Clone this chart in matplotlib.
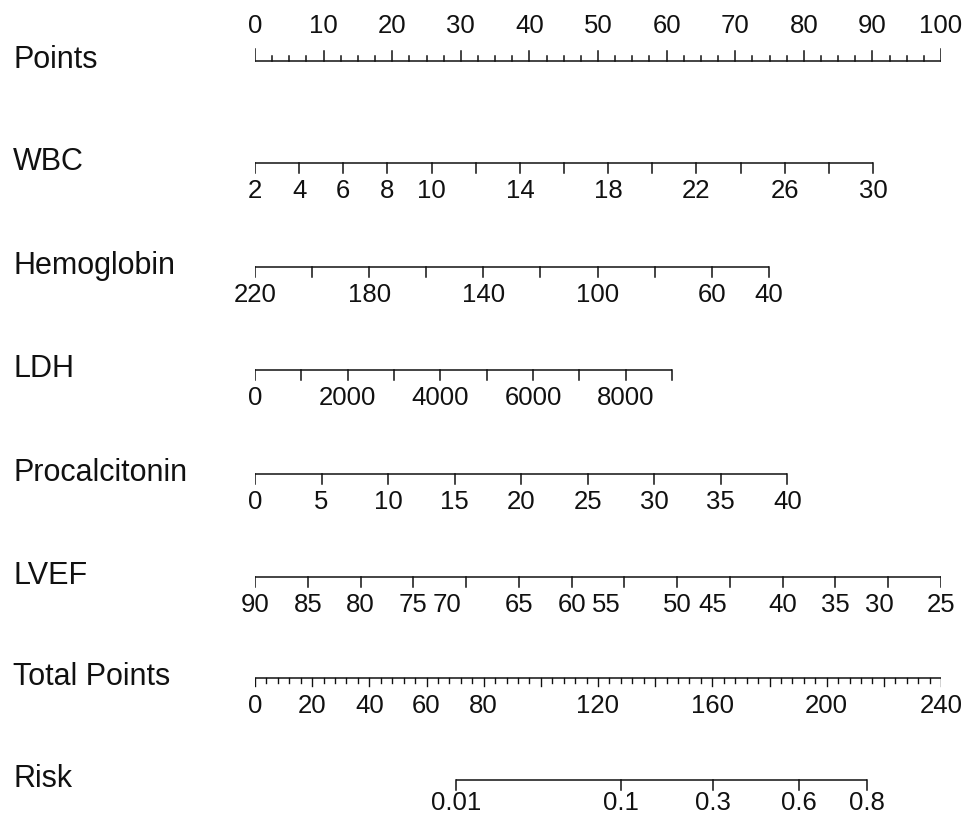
import numpy as np
import matplotlib
matplotlib.use('Agg')
import matplotlib.pyplot as plt

# nomogram variables: axis range (value at 0 points, value at far end, points at far end)
wbc_range = (2, 30, 90.1)
wbc_ticks = np.arange(2, 31, 2)
wbc_labels = [2, 4, 6, 8, 10, 14, 18, 22, 26, 30]

hgb_range = (220, 40, 74.9)
hgb_ticks = np.arange(220, 39, -20)
hgb_labels = [220, 180, 140, 100, 60, 40]

ldh_range = (0, 9000, 60.8)
ldh_ticks = np.arange(0, 9001, 1000)
ldh_labels = [0, 2000, 4000, 6000, 8000]

pct_range = (0, 40, 77.6)
pct_ticks = np.arange(0, 41, 5)
pct_labels = list(range(0, 41, 5))

lvef_range = (90, 25, 100.0)
lvef_ticks = np.arange(90, 24, -5)
lvef_labels = [90, 85, 80, 75, 70, 65, 60, 55, 50, 45, 40, 35, 30, 25]
# where the labels sit (in LVEF units), a few are nudged left
lvef_label_at = [90, 85, 80, 75, 71.8, 65, 60, 56.7, 50, 46.6, 40, 35, 30.8, 25]

total_major = np.arange(0, 241, 20)
total_minor = np.arange(0, 241, 4)
total_labels = [0, 20, 40, 60, 80, 120, 160, 200, 240]

risk_ticks = [0.01, 0.1, 0.3, 0.6, 0.8]
risk_labels = ['0.01', '0.1', '0.3', '0.6', '0.8']
# linear predictor: total points = a + b * logit(risk)
risk_a, risk_b = 180.7, 24.0

names = ['Points', 'WBC', 'Hemoglobin', 'LDH', 'Procalcitonin', 'LVEF',
         'Total Points', 'Risk']
row_y = [61, 163, 267, 370, 474, 577, 678, 780]

W, H = 966, 818
fig = plt.figure(figsize=(W / 100, H / 100), dpi=100)
x0, x1 = 255, 941
ax = fig.add_axes([x0 / W, 0, (x1 - x0) / W, 1])
ax.set_xlim(0, 100)
ax.set_ylim(H, 0)
ax.axis('off')

row_font = dict(family=['Liberation Sans', 'DejaVu Sans'], size=22)
tick_font = dict(family=['Liberation Sans', 'DejaVu Sans'], size=18.5)
lc = '#111111'
lw = 1.1


def lin(rng):
    v0, v1, p1 = rng
    return lambda v: (np.asarray(v, float) - v0) / (v1 - v0) * p1


def draw_axis(y, pos_ticks, pos_labels, labels, tlen=10, off=28):
    pos_ticks = np.asarray(pos_ticks, float)
    ax.plot([pos_ticks.min(), pos_ticks.max()], [y, y], color=lc, lw=lw,
            solid_capstyle='butt')
    for p in pos_ticks:
        ax.plot([p, p], [y, y + tlen], color=lc, lw=lw)
    for p, s in zip(pos_labels, labels):
        ax.text(p, y + off, str(s), ha='center', va='center', color=lc,
                **tick_font)


# row names
for name, y in zip(names, row_y):
    fig.text(13 / W, 1 - (y - 1) / H, name, ha='left', va='center', color=lc,
             **row_font)

# Points scale (ticks pointing up, labels above)
y = row_y[0]
pts_minor = np.arange(0, 100.1, 2.5)
ax.plot([0, 100], [y, y], color=lc, lw=lw)
for p in pts_minor:
    L = 10 if p % 10 == 0 else 5.5
    if p in (0, 100):
        L = 12
    ax.plot([p, p], [y, y - L], color=lc, lw=lw)
for p in range(0, 101, 10):
    ax.text(p, y - 35, str(p), ha='center', va='center', color=lc, **tick_font)

f = lin(wbc_range)
draw_axis(row_y[1], f(wbc_ticks), f(wbc_labels), wbc_labels)
f = lin(hgb_range)
draw_axis(row_y[2], f(hgb_ticks), f(hgb_labels), hgb_labels)
f = lin(ldh_range)
draw_axis(row_y[3], f(ldh_ticks), f(ldh_labels), ldh_labels)
f = lin(pct_range)
draw_axis(row_y[4], f(pct_ticks), f(pct_labels), pct_labels)
f = lin(lvef_range)
draw_axis(row_y[5], f(lvef_ticks), f(lvef_label_at), lvef_labels)

# Total Points scale
y = row_y[6]
tp = lambda v: np.asarray(v, float) / 240 * 100
ax.plot([0, 100], [y, y], color=lc, lw=lw)
for v in total_minor:
    L = 8 if v % 20 == 0 else 5
    ax.plot([tp(v), tp(v)], [y, y + L], color=lc, lw=lw * 0.9)
for v in total_labels:
    ax.text(tp(v), y + 28, str(v), ha='center', va='center', color=lc,
            **tick_font)

# Risk scale
r = np.array(risk_ticks)
risk_pos = tp(risk_a + risk_b * np.log(r / (1 - r)))
draw_axis(row_y[7], risk_pos, risk_pos, risk_labels, off=23)

fig.savefig('out.png', dpi=100, facecolor='white')
